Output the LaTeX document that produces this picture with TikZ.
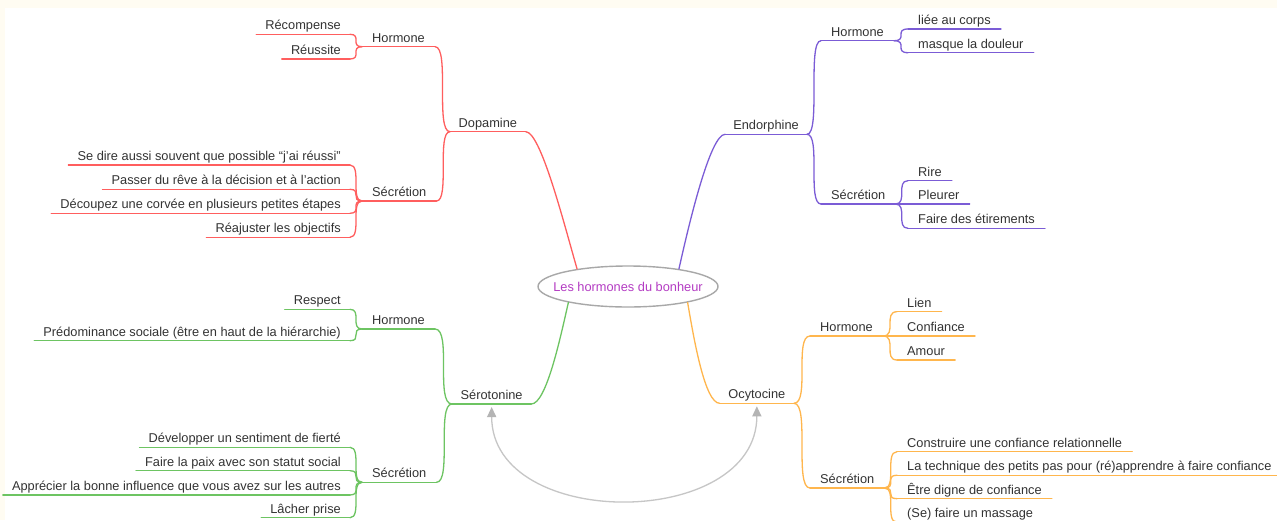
\documentclass[tikz,border=0pt]{standalone}
\usepackage{fontspec}
\setmainfont{Liberation Sans}
\usetikzlibrary{shapes.geometric,arrows.meta}
\definecolor{cred}{HTML}{FF5E5E}
\definecolor{cpur}{HTML}{7B5CD6}
\definecolor{cgrn}{HTML}{6DC462}
\definecolor{corg}{HTML}{FFB64D}
\definecolor{ctxt}{HTML}{333333}
\definecolor{croot}{HTML}{B43CC3}
\definecolor{cgray}{HTML}{C6C6C6}
\definecolor{carrow}{HTML}{B4B4B4}
\definecolor{cell}{HTML}{A8A8A8}
\definecolor{ccream}{HTML}{FFFCF2}
\begin{document}
\begin{tikzpicture}[x=1pt,y=-1pt,
  tx/.style={font=\fontsize{12.8}{15}\selectfont, text=ctxt, inner ysep=0pt, text height=9.5pt, text depth=4.5pt},
  lone/.style={tx, inner xsep=8.5pt},
  ltwo/.style={tx, inner xsep=10pt},
  leafL/.style={tx, inner xsep=9pt, anchor=south east},
  leafR/.style={tx, inner xsep=10pt, anchor=south west},
  link/.style={line width=1.3pt, line cap=round},
  brace/.style={to path={.. controls (\tikztotarget|-\tikztostart) and (\tikztostart|-\tikztotarget) .. (\tikztotarget)}},
  rootnode/.style={shape=ellipse, draw=cell, line width=1.4pt, fill=white, minimum width=180pt, minimum height=41pt, inner sep=0pt, text=croot, font=\fontsize{12.8}{15}\selectfont},
  biarrow/.style={draw=cgray, line width=1.3pt, {Triangle[width=9pt,length=10pt,color=carrow]}-{Triangle[width=9pt,length=10pt,color=carrow]}, shorten <=3pt, shorten >=3pt}
]
\useasboundingbox (0,0) rectangle (1277,520);
\clip (0,0) rectangle (1277,520);
\fill[white] (0,0) rectangle (1277,520);
\fill[ccream] (0,0) rectangle (1277,8);
\fill[ccream] (0,0) rectangle (5,520);

% root
\node[rootnode] (root) at (628,286.5) {\makebox[0pt]{Les hormones du bonheur}};

% Dopamine
\node[lone, anchor=south west] (dop) at (450,131.7) {Dopamine};
\node[ltwo, anchor=south west] (dopH) at (362,46.7) {Hormone};
\node[ltwo, anchor=south west] (dopS) at (362,201) {Sécrétion};
\node[leafL] (dopH1) at (350,34.3) {Récompense};
\node[leafL] (dopH2) at (350,59) {Réussite};
\node[leafL] (dopS1) at (350,165) {Se dire aussi souvent que possible “j'ai réussi”};
\node[leafL] (dopS2) at (350,189.3) {Passer du rêve à la décision et à l'action};
\node[leafL] (dopS3) at (350,213.3) {Découpez une corvée en plusieurs petites étapes};
\node[leafL] (dopS4) at (350,237.3) {Réajuster les objectifs};

% Serotonine
\node[lone, anchor=south west] (sero) at (452,404) {Sérotonine};
\node[ltwo, anchor=south west] (seroH) at (362,329) {Hormone};
\node[ltwo, anchor=south west] (seroS) at (362,482.3) {Sécrétion};
\node[leafL] (seroH1) at (350,309.3) {Respect};
\node[leafL] (seroH2) at (350,340.7) {Prédominance sociale (être en haut de la hiérarchie)};
\node[leafL] (seroS1) at (350,447.3) {Développer un sentiment de fierté};
\node[leafL] (seroS2) at (350,470.7) {Faire la paix avec son statut social};
\node[leafL] (seroS3) at (350,495) {Apprécier la bonne influence que vous avez sur les autres};
\node[leafL] (seroS4) at (350,517.7) {Lâcher prise};

% Endorphine
\node[lone, inner xsep=8pt, anchor=south east] (endo) at (807,134.3) {Endorphine};
\node[ltwo, anchor=south west] (endoH) at (821,40.7) {Hormone};
\node[ltwo, anchor=south west] (endoS) at (821,204) {Sécrétion};
\node[leafR] (endoH1) at (908,29) {liée au corps};
\node[leafR] (endoH2) at (908,52.7) {masque la douleur};
\node[leafR] (endoS1) at (908,180.7) {Rire};
\node[leafR] (endoS2) at (908,204) {Pleurer};
\node[leafR] (endoS3) at (908,228.3) {Faire des étirements};

% Ocytocine
\node[lone, anchor=south east] (ocy) at (794,403.3) {Ocytocine};
\node[ltwo, anchor=south west] (ocyH) at (810,336) {Hormone};
\node[ltwo, anchor=south west] (ocyS) at (810,488) {Sécrétion};
\node[leafR] (ocyH1) at (897,311.7) {Lien};
\node[leafR] (ocyH2) at (897,336) {Confiance};
\node[leafR] (ocyH3) at (897,360) {Amour};
\node[leafR] (ocyS1) at (897,451.7) {Construire une confiance relationnelle};
\node[leafR] (ocyS2) at (897,475.2) {La technique des petits pas pour (ré)apprendre à faire confiance};
\node[leafR] (ocyS3) at (897,498.7) {Être digne de confiance};
\node[leafR] (ocyS4) at (897,522.2) {(Se) faire un massage};

% underlines
\foreach \n/\c in {dop/cred,dopH/cred,dopS/cred,dopH1/cred,dopH2/cred,dopS1/cred,dopS2/cred,dopS3/cred,dopS4/cred,
  sero/cgrn,seroH/cgrn,seroS/cgrn,seroH1/cgrn,seroH2/cgrn,seroS1/cgrn,seroS2/cgrn,seroS3/cgrn,seroS4/cgrn,
  endo/cpur,endoH/cpur,endoS/cpur,endoH1/cpur,endoH2/cpur,endoS1/cpur,endoS2/cpur,endoS3/cpur,
  ocy/corg,ocyH/corg,ocyS/corg,ocyH1/corg,ocyH2/corg,ocyH3/corg,ocyS1/corg,ocyS2/corg,ocyS3/corg,ocyS4/corg}
  \draw[link,\c] (\n.south west) -- (\n.south east);

% left side connectors
\foreach \p/\k/\c in {dopH/dopH1/cred,dopH/dopH2/cred,dopS/dopS1/cred,dopS/dopS2/cred,dopS/dopS3/cred,dopS/dopS4/cred,
  seroH/seroH1/cgrn,seroH/seroH2/cgrn,seroS/seroS1/cgrn,seroS/seroS2/cgrn,seroS/seroS3/cgrn,seroS/seroS4/cgrn}
  \draw[link,\c] (\k.south east) to[brace] (\p.south west);
\foreach \p/\k/\c in {dop/dopH/cred,dop/dopS/cred,sero/seroH/cgrn,sero/seroS/cgrn}
  \draw[link,\c] (\k.south east) to[brace] (\p.south west);

% right side connectors
\foreach \p/\k/\c in {endoH/endoH1/cpur,endoH/endoH2/cpur,endoS/endoS1/cpur,endoS/endoS2/cpur,endoS/endoS3/cpur,
  ocyH/ocyH1/corg,ocyH/ocyH2/corg,ocyH/ocyH3/corg,ocyS/ocyS1/corg,ocyS/ocyS2/corg,ocyS/ocyS3/corg,ocyS/ocyS4/corg,
  endo/endoH/cpur,endo/endoS/cpur,ocy/ocyH/corg,ocy/ocyS/corg}
  \draw[link,\c] (\p.south east) to[brace] (\k.south west);

% root connectors
\draw[link,cred] (dop.south east) .. controls +(15,0) and +(-13,-45) .. (root.161.2);
\draw[link,cpur] (endo.south west) .. controls +(-15,0) and +(10,-45) .. (root.19.1);
\draw[link,cgrn] (sero.south east) .. controls +(15,0) and +(-8,35) .. (root.195.6);
\draw[link,corg] (ocy.south west) .. controls +(-15,0) and +(6,35) .. (root.345.3);

% relation arrow
\draw[biarrow] (sero.south) .. controls +(0,127) and +(0,127) .. (ocy.south);
\end{tikzpicture}
\end{document}
